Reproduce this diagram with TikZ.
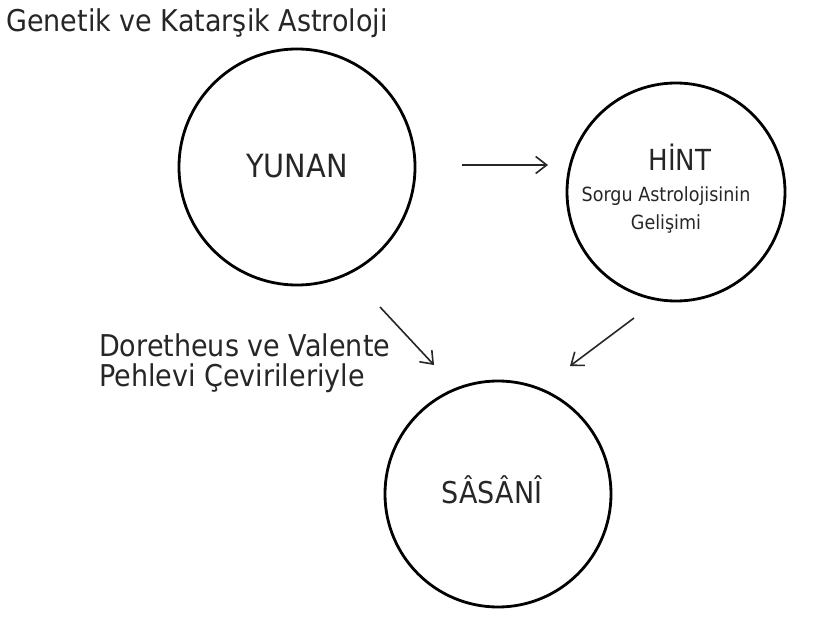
\documentclass[tikz,border=0pt]{standalone}
\usepackage{fontspec}
\setmainfont{DejaVu Sans}[FakeStretch=0.9]
\usetikzlibrary{arrows.meta}
\begin{document}
\begin{tikzpicture}[x=1pt,y=-1pt,
  ring/.style={draw=black,line width=2.8pt,circle,inner sep=0pt,align=center,text=black!85},
  conn/.style={line width=1.6pt,black!85,-{Straight Barb[length=11pt,width=17pt,line width=1.6pt]}},
  big/.style={inner sep=0pt,font=\fontsize{30}{34}\selectfont,text=black!85},
  lbl/.style={big,anchor=west}]
\useasboundingbox (0,0) rectangle (814,623);
\node[lbl] (title) at (6,23) {Genetik ve Katarşik Astroloji};
\node[ring,minimum size=236pt] (yunan) at (297,167) {};
\node[big,font=\fontsize{32}{34}\selectfont] (yunantxt) at (297,166) {YUNAN};
\node[ring,minimum size=218pt] (hint) at (676,192) {};
\node[big,font=\fontsize{29}{34}\selectfont] (hinttxt) at (680,157) {HİNT};
\node[inner sep=0pt,align=center,font=\fontsize{19.5}{28}\selectfont,text=black!85] (hintsub) at (666,210) {Sorgu Astrolojisinin\\Gelişimi};
\node[ring,minimum size=226pt] (sasani) at (498,494) {};
\node[big] (sasanitxt) at (492,490) {SÂSÂNÎ};
\node[lbl] (lab1) at (99,345) {Doretheus ve Valente};
\node[lbl] (lab2) at (99,378) {Pehlevi Çevirileriyle};
\coordinate (a1s) at (462,165);
\coordinate (a1e) at (548,165);
\coordinate (a2s) at (380,307);
\coordinate (a2e) at (434,365);
\coordinate (a3s) at (634,318);
\coordinate (a3e) at (570,366);
\draw[conn] (a1s) -- (a1e);
\draw[conn] (a2s) -- (a2e);
\draw[conn] (a3s) -- (a3e);
\end{tikzpicture}
\end{document}
